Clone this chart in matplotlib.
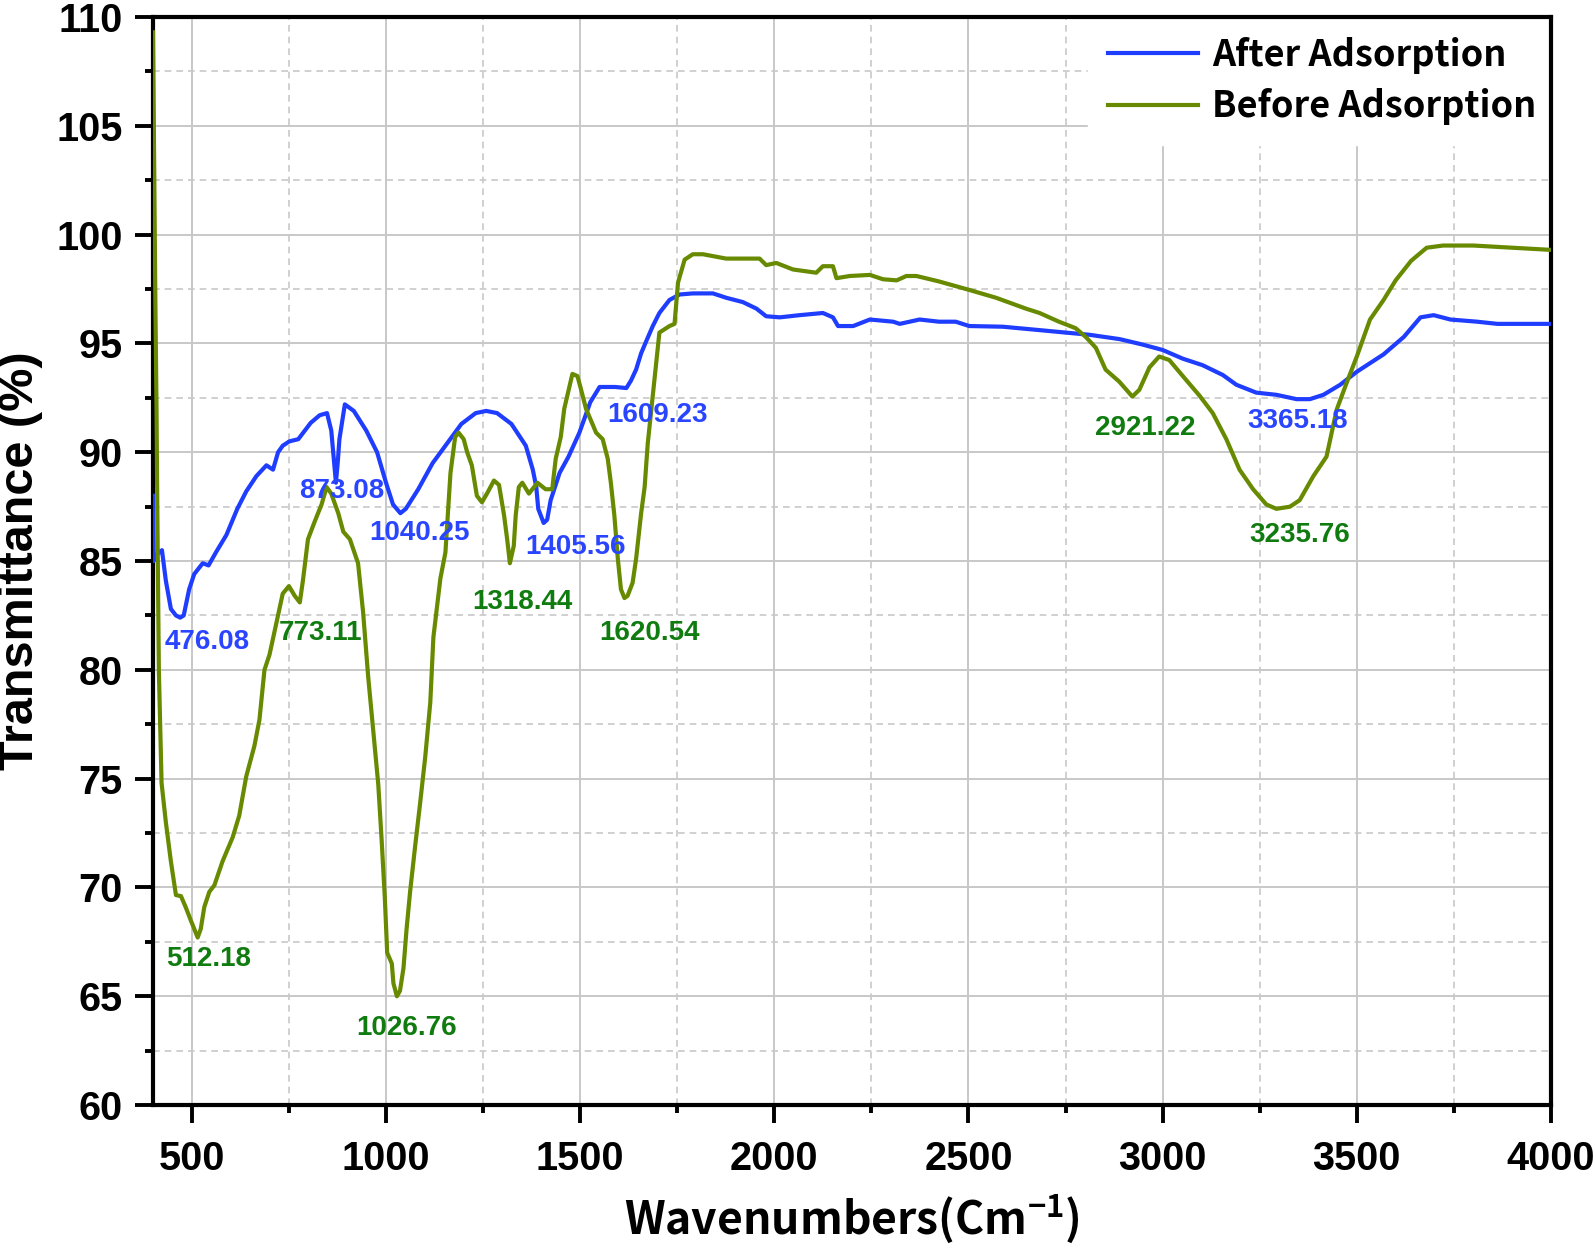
import matplotlib
matplotlib.use("Agg")
import matplotlib.pyplot as plt
from matplotlib.ticker import MultipleLocator

# After adsorption (blue)
after_x = [400, 402, 410, 423, 433, 446, 459, 470, 479, 493, 506, 528, 543, 562, 589, 617,
           640, 666, 692, 709, 722, 734, 751, 774, 806, 829, 848, 859, 865, 871, 876, 880,
           894, 917, 949, 977, 1000, 1018, 1037, 1051, 1083, 1120, 1157, 1194, 1231, 1258,
           1286, 1323, 1360, 1378, 1387, 1392, 1406, 1415, 1424, 1447, 1470, 1498, 1526,
           1550, 1590, 1619, 1631, 1644, 1657, 1670, 1687, 1704, 1730, 1756, 1790, 1842,
           1876, 1919, 1954, 1979, 2014, 2065, 2125, 2151, 2164, 2203, 2246, 2306, 2323,
           2374, 2424, 2467, 2502, 2588, 2691, 2750, 2811, 2889, 2948, 3000, 3052, 3103,
           3155, 3190, 3241, 3293, 3345, 3379, 3414, 3457, 3500, 3569, 3621, 3664, 3698,
           3741, 3810, 3862, 4000]
after_y = [88.0, 85.0, 85.3, 85.5, 84.1, 82.8, 82.5, 82.4, 82.5, 83.7, 84.4, 84.9, 84.8, 85.4,
           86.2, 87.4, 88.2, 88.9, 89.4, 89.2, 90.0, 90.3, 90.5, 90.6, 91.35, 91.7, 91.8,
           91.0, 89.8, 88.6, 89.6, 90.6, 92.2, 91.9, 91.0, 90.0, 88.6, 87.6, 87.2, 87.4,
           88.3, 89.5, 90.4, 91.3, 91.8, 91.9, 91.8, 91.3, 90.3, 89.2, 88.4, 87.4, 86.75,
           86.9, 87.8, 89.05, 89.8, 90.9, 92.3, 93.0, 93.0, 92.95, 93.3, 93.8, 94.55, 95.1,
           95.8, 96.4, 97.0, 97.25, 97.3, 97.3, 97.1, 96.9, 96.6, 96.25, 96.2, 96.3, 96.4,
           96.2, 95.8, 95.8, 96.1, 96.0, 95.9, 96.1, 96.0, 96.0, 95.8, 95.77, 95.6, 95.5,
           95.4, 95.2, 94.95, 94.7, 94.3, 94.0, 93.55, 93.1, 92.74, 92.64, 92.44, 92.44,
           92.64, 93.1, 93.7, 94.5, 95.3, 96.2, 96.3, 96.1, 96.0, 95.9, 95.9]

# Before adsorption (olive)
before_x = [400, 403, 406, 409, 411, 415, 422, 433, 446, 459, 472, 484, 497, 515, 523, 532,
            545, 558, 579, 605, 622, 640, 661, 674, 687, 700, 717, 734, 750, 765, 778, 786,
            799, 816, 834, 847, 859, 877, 890, 907, 928, 941, 954, 967, 980, 989, 997, 1003,
            1015, 1019, 1028, 1036, 1045, 1053, 1062, 1075, 1088, 1101, 1114, 1122, 1140,
            1153, 1166, 1178, 1187, 1200, 1209, 1221, 1234, 1247, 1260, 1278, 1291, 1304,
            1312, 1319, 1329, 1334, 1342, 1351, 1368, 1390, 1411, 1428, 1437, 1450, 1459,
            1472, 1480, 1493, 1502, 1515, 1541, 1558, 1571, 1579, 1588, 1597, 1605, 1614,
            1622, 1635, 1644, 1657, 1666, 1674, 1687, 1696, 1704, 1730, 1743, 1752, 1769,
            1790, 1816, 1876, 1962, 1979, 2005, 2048, 2108, 2125, 2151, 2160, 2194, 2246,
            2280, 2315, 2340, 2366, 2424, 2500, 2571, 2648, 2683, 2733, 2776, 2802, 2828,
            2853, 2888, 2922, 2940, 2966, 2991, 3017, 3052, 3095, 3129, 3164, 3198, 3233,
            3267, 3293, 3328, 3353, 3388, 3422, 3448, 3474, 3500, 3534, 3569, 3600, 3640,
            3680, 3722, 3800, 3900, 4000]
before_y = [109.3, 103.0, 97.0, 92.0, 87.5, 80.0, 74.8, 73.0, 71.2, 69.65, 69.6, 69.1, 68.5,
            67.7, 68.1, 69.1, 69.8, 70.1, 71.2, 72.3, 73.3, 75.1, 76.5, 77.7, 80.0, 80.7,
            82.1, 83.5, 83.85, 83.4, 83.1, 84.1, 86.0, 86.8, 87.6, 88.4, 88.1, 87.2, 86.35,
            86.0, 84.9, 82.65, 79.7, 77.2, 74.75, 72.1, 69.5, 67.0, 66.5, 65.6, 65.0, 65.25,
            66.3, 68.1, 69.8, 71.9, 73.9, 76.0, 78.5, 81.5, 84.2, 85.4, 89.05, 90.7, 90.9,
            90.6, 90.0, 89.4, 88.0, 87.7, 88.1, 88.7, 88.5, 87.1, 86.0, 84.9, 85.7, 87.1,
            88.4, 88.6, 88.1, 88.6, 88.3, 88.3, 89.7, 90.7, 92.0, 93.0, 93.6, 93.5, 92.9,
            92.0, 90.9, 90.6, 89.7, 88.6, 87.1, 85.1, 83.7, 83.3, 83.4, 84.0, 85.1, 87.2,
            88.4, 90.4, 92.6, 94.1, 95.5, 95.8, 95.9, 97.8, 98.85, 99.1, 99.1, 98.9, 98.9,
            98.6, 98.7, 98.4, 98.25, 98.55, 98.55, 98.0, 98.1, 98.15, 97.95, 97.9, 98.1,
            98.1, 97.85, 97.47, 97.1, 96.6, 96.4, 96.0, 95.7, 95.3, 94.8, 93.8, 93.25, 92.56,
            92.87, 93.9, 94.4, 94.24, 93.5, 92.6, 91.8, 90.6, 89.2, 88.3, 87.6, 87.4, 87.5,
            87.8, 88.9, 89.8, 91.95, 93.2, 94.4, 96.1, 97.0, 97.9, 98.8, 99.4, 99.5, 99.5,
            99.4, 99.3]

# peak labels
after_labels = ["476.08", "873.08", "1040.25", "1405.56", "1609.23", "3365.18"]
after_lx = [539, 885, 1086, 1487, 1700, 3348]
after_ly = [81.3, 88.2, 86.3, 85.65, 91.7, 91.45]
before_labels = ["512.18", "773.11", "1026.76", "1318.44", "1620.54", "2921.22", "3235.76"]
before_lx = [544, 832, 1052, 1351, 1679, 2954, 3353]
before_ly = [66.7, 81.7, 63.55, 83.1, 81.7, 91.1, 86.2]

blue = "#1f3dff"
olive = "#678a00"
lab_blue = "#2a45ff"
lab_green = "#107c10"
cjk = ["Noto Sans CJK JP", "DejaVu Sans"]

plt.rcParams["font.family"] = ["Liberation Sans", "DejaVu Sans"]
plt.rcParams["mathtext.fontset"] = "custom"
plt.rcParams["mathtext.bf"] = "Noto Sans CJK JP:bold"
plt.rcParams["mathtext.rm"] = "Noto Sans CJK JP"

fig = plt.figure(figsize=(15.94, 12.45), dpi=100)
ax = fig.add_axes([0.096, 0.1124, 0.877, 0.8739])

ax.plot(after_x, after_y, color=blue, lw=3.0, label="After Adsorption", zorder=7)
ax.plot(before_x, before_y, color=olive, lw=3.0, label="Before Adsorption", zorder=7)

for t, x, y in zip(after_labels, after_lx, after_ly):
    ax.text(x, y, t, color=lab_blue, fontsize=20, fontweight="bold", ha="center", va="center", zorder=8)
for t, x, y in zip(before_labels, before_lx, before_ly):
    ax.text(x, y, t, color=lab_green, fontsize=20, fontweight="bold", ha="center", va="center", zorder=8)

ax.set_xlim(400, 4000)
ax.set_ylim(60, 110)
ax.xaxis.set_major_locator(MultipleLocator(500))
ax.xaxis.set_minor_locator(MultipleLocator(250))
ax.yaxis.set_major_locator(MultipleLocator(5))
ax.yaxis.set_minor_locator(MultipleLocator(2.5))

ax.grid(which="major", color="#c8c8c8", lw=1.4, ls="-", zorder=0)
ax.grid(which="minor", color="#c8c8c8", lw=1.2, ls=(0, (4, 3)), zorder=0)
ax.set_axisbelow(True)

for s in ax.spines.values():
    s.set_linewidth(3)
    s.set_zorder(6)
ax.tick_params(which="major", direction="out", length=13, width=2.8, labelsize=28.5)
ax.tick_params(axis="x", which="major", pad=12)
ax.tick_params(axis="y", which="major", pad=9)
ax.tick_params(which="minor", direction="out", length=6, width=2.8)
for lbl in ax.get_xticklabels() + ax.get_yticklabels():
    lbl.set_fontweight("bold")

ax.set_ylabel("Transmittance (%)", fontsize=35, fontweight="bold")
ax.yaxis.set_label_coords(-0.079, 0.5)
ax.set_xlabel(r"Wavenumbers(Cm$^{\mathbf{-1}}$)", fontsize=32, fontweight="bold",
              family=cjk, labelpad=10)

leg = ax.legend(loc="upper right", bbox_to_anchor=(1.004, 1.0), handlelength=2.5,
                borderaxespad=0.0, borderpad=0.55, labelspacing=0.4, handletextpad=0.4,
                fancybox=False, framealpha=1.0, edgecolor="white",
                prop={"family": cjk, "weight": "bold", "size": 26})
leg.set_zorder(5)

fig.savefig("out.png", dpi=100)
